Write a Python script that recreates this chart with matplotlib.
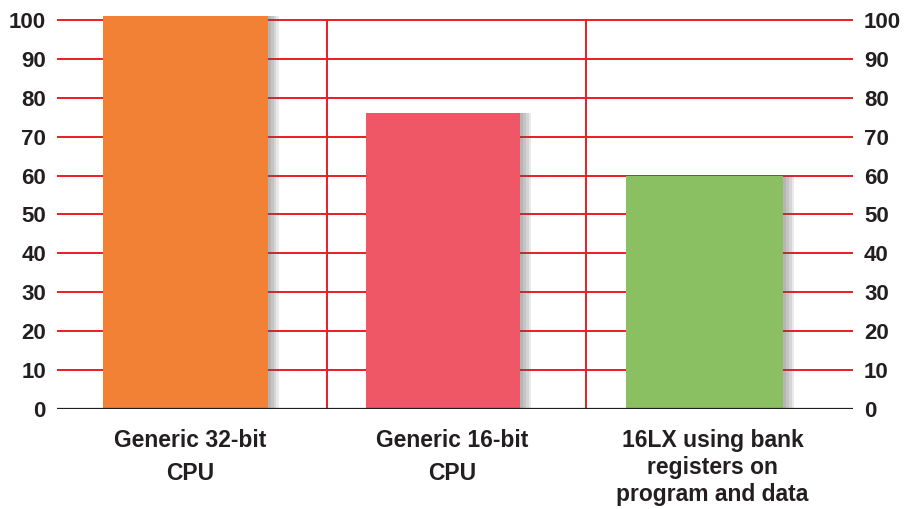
import matplotlib
matplotlib.use('Agg')
import matplotlib.pyplot as plt

categories = ['Generic 32-bit\nCPU', 'Generic 16-bit\nCPU', '16LX using bank\nregisters on\nprogram and data']
values = [101, 76, 60]
colors = ['#f28035', '#ef5766', '#8abf62']
yticks = list(range(0, 101, 10))

plt.rcParams['font.family'] = ['Liberation Sans', 'DejaVu Sans']

fig = plt.figure(figsize=(9.17, 5.09), dpi=100)
ax = fig.add_axes([0.0622, 0.1965, 0.868, 0.7797])

red = '#ec1c24'
xpos = [-0.016, -0.045, -0.059]
widths = [0.622, 0.58, 0.592]
x = [i + d for i, d in enumerate(xpos)]

# soft grey shadow on the right of each bar
for off in [0.012, 0.022, 0.032, 0.042]:
    ax.bar([xi + off for xi in x], values, width=widths, color='#555555',
           alpha=0.13, zorder=2, linewidth=0)
ax.bar(x, values, width=widths, color=colors, zorder=3, linewidth=0)

for t in yticks[1:]:
    ax.axhline(t, color=red, lw=1.4, zorder=1)
for sep in [0.518, 1.494]:
    ax.plot([sep, sep], [0, 100], color=red, lw=1.4, zorder=1)
ax.axhline(0, color='#231f20', lw=1.6, zorder=4)

ax.set_xlim(-0.5, 2.5)
ax.set_ylim(0, 102)
ax.set_yticks(yticks)
ax.set_xticks([])
ax.tick_params(axis='y', length=0, pad=8, labelsize=16, labelcolor='#231f20',
               labelleft=True, labelright=True)
for t in ax.yaxis.get_major_ticks():
    t.label1.set_fontweight('bold')
    t.label2.set_fontweight('bold')
for s in ax.spines.values():
    s.set_visible(False)

label_x = [0.003, -0.011, -0.029]
spacing = [1.55, 1.55, 1.22]
for i, (lx, c, ls) in enumerate(zip(label_x, categories, spacing)):
    ax.text(i + lx, -5.2, c, ha='center', va='top', fontsize=16.5, fontweight='bold',
            color='#231f20', linespacing=ls)

fig.savefig('out.png', dpi=100)
